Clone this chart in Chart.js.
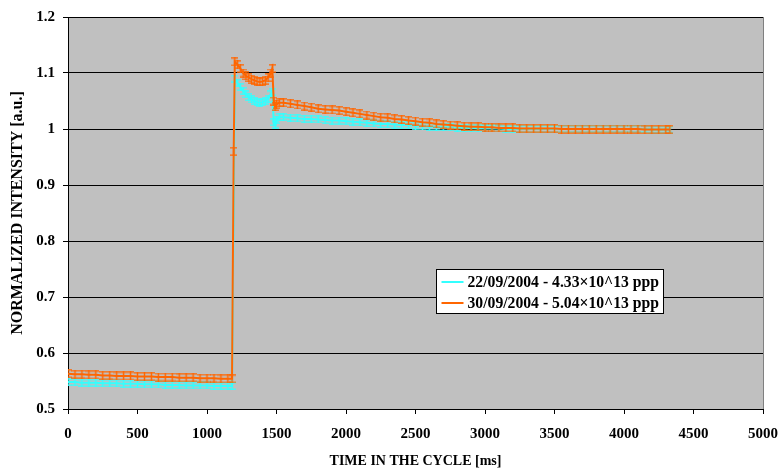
<!DOCTYPE html>
<html>
<head>
<meta charset="utf-8">
<script src="https://cdn.jsdelivr.net/npm/chart.js@4/dist/chart.umd.min.js"></script>
<style>
  html, body { margin: 0; padding: 0; background: #fff; }
  #wrap { width: 778px; height: 470px; }
</style>
</head>
<body>
<div id="wrap"><canvas id="canvas" width="778" height="470"></canvas></div>
<script>
// time in the cycle [ms] and normalized intensity
var timeCyan = [0,50,100,150,200,250,300,350,400,450,500,550,600,650,700,750,800,850,900,950,1000,1050,1100,1150,1180,
  1200,1220,1240,1260,1280,1300,1320,1340,1360,1380,1400,1420,1440,1460,1470,1480,1490,1500,1520,1550,
  1600,1650,1700,1750,1800,1850,1900,1950,2000,2050,2100,2150,2200,2250,2300,2350,2400,2450,2500,2550,
  2600,2650,2700,2750,2800,2850,2900,2950,3000,3050,3100,3150,3200,3250,3300,3350,3400,3450,3500,3550,
  3600,3650,3700,3750,3800,3850,3900,3950,4000,4050,4100,4150,4200,4250,4300,4330];
var cyan = [0.548,0.548,0.547,0.547,0.547,0.546,0.546,0.546,0.545,0.545,0.545,0.544,0.544,0.544,0.543,0.543,0.543,0.542,0.542,0.542,0.542,0.541,0.541,0.541,0.541,
  1.090,1.082,1.075,1.068,1.062,1.057,1.053,1.050,1.048,1.047,1.048,1.050,1.054,1.062,1.066,1.012,1.008,1.016,1.021,1.021,
  1.020,1.019,1.018,1.018,1.017,1.016,1.015,1.015,1.014,1.013,1.012,1.011,1.010,1.009,1.009,1.008,1.007,1.007,1.006,1.005,
  1.004,1.004,1.003,1.003,1.002,1.002,1.002,1.001,1.001,1.001,1.001,1.000,1.000,1.000,1.000,1.000,1.000,1.000,1.000,1.000,
  1.000,1.000,1.000,1.000,1.000,1.000,1.000,1.000,1.000,1.000,1.000,1.000,0.999,0.999,0.999,0.999];

var timeOrange = [0,50,100,150,200,250,300,350,400,450,500,550,600,650,700,750,800,850,900,950,1000,1050,1100,1150,1180,1192,
  1200,1220,1240,1260,1280,1300,1320,1340,1360,1380,1400,1420,1440,1460,1470,1480,1490,1500,1520,1550,
  1600,1650,1700,1750,1800,1850,1900,1950,2000,2050,2100,2150,2200,2250,2300,2350,2400,2450,2500,2550,
  2600,2650,2700,2750,2800,2850,2900,2950,3000,3050,3100,3150,3200,3250,3300,3350,3400,3450,3500,3550,
  3600,3650,3700,3750,3800,3850,3900,3950,4000,4050,4100,4150,4200,4250,4300,4330];
var orange = [0.563,0.562,0.562,0.561,0.561,0.560,0.560,0.559,0.559,0.559,0.558,0.558,0.558,0.557,0.557,0.557,0.556,0.556,0.556,0.555,0.555,0.555,0.554,0.554,0.554,0.960,
  1.120,1.115,1.108,1.100,1.095,1.092,1.089,1.087,1.085,1.084,1.085,1.087,1.092,1.100,1.108,1.050,1.040,1.044,1.047,1.047,
  1.045,1.043,1.041,1.039,1.036,1.035,1.034,1.033,1.031,1.029,1.027,1.025,1.023,1.021,1.020,1.018,1.017,1.015,1.014,1.012,
  1.011,1.009,1.008,1.007,1.006,1.005,1.004,1.004,1.003,1.003,1.002,1.002,1.002,1.001,1.001,1.001,1.001,1.001,1.001,1.000,
  1.000,1.000,1.000,1.000,1.000,1.000,1.000,1.000,1.000,1.000,1.000,0.999,0.999,0.999,0.999,0.999];

var seriesLabels = ['22/09/2004 - 4.33\u00d710^13 ppp', '30/09/2004 - 5.04\u00d710^13 ppp'];
var seriesColors = ['#33ffff', '#ff6600'];

function pairs(xs, ys) {
    return xs.map(function(x, i) { return {x: x, y: ys[i]}; });
}

// little error bar marker (vertical stroke with caps)
function errBar(color, w, h) {
    var cv = document.createElement('canvas');
    cv.width = w; cv.height = h;
    var g = cv.getContext('2d');
    g.strokeStyle = color;
    g.lineWidth = 1.5;
    g.beginPath();
    g.moveTo(w / 2, 0); g.lineTo(w / 2, h);
    g.stroke();
    g.lineWidth = 1.2;
    g.beginPath();
    g.moveTo(0, 0.8); g.lineTo(w, 0.8);
    g.moveTo(0, h - 0.8); g.lineTo(w, h - 0.8);
    g.stroke();
    return cv;
}

var FONT = '"Liberation Serif", "Times New Roman", serif';

// gray plot area behind the data
var plotBg = {
    id: 'plotBg',
    beforeDraw: function(chart) {
        var a = chart.chartArea, c = chart.ctx;
        c.save();
        c.fillStyle = '#c0c0c0';
        c.fillRect(a.left, a.top, a.right - a.left, a.bottom - a.top);
        c.strokeStyle = '#808080';
        c.lineWidth = 1;
        c.beginPath();
        c.moveTo(a.right + 0.5, a.top);
        c.lineTo(a.right + 0.5, a.bottom);
        c.stroke();
        c.restore();
    }
};

// boxed legend inside the plot like the original
var boxLegend = {
    id: 'boxLegend',
    afterDraw: function(chart) {
        var c = chart.ctx;
        var x = 436.5, y = 269.5, w = 227, h = 44;
        c.save();
        c.fillStyle = '#fff';
        c.fillRect(x, y, w, h);
        c.strokeStyle = '#000';
        c.lineWidth = 1;
        c.strokeRect(x, y, w, h);
        c.font = 'bold 15.7px ' + FONT;
        c.textBaseline = 'middle';
        chart.data.datasets.forEach(function(ds, i) {
            var ly = y + 12.5 + i * 21;
            c.strokeStyle = ds.borderColor;
            c.lineWidth = 2;
            c.beginPath();
            c.moveTo(x + 5, ly);
            c.lineTo(x + 27, ly);
            c.stroke();
            c.fillStyle = '#000';
            c.fillText(ds.label, x + 31, ly + 1);
        });
        c.restore();
    }
};

var ctx = document.getElementById('canvas').getContext('2d');
var myChart = new Chart(ctx, {
    type: 'line',
    data: {
        datasets: [
            {
                label: seriesLabels[0],
                data: pairs(timeCyan, cyan),
                borderColor: seriesColors[0],
                backgroundColor: seriesColors[0],
                borderWidth: 2,
                pointStyle: errBar(seriesColors[0], 7, 8),
                order: 2
            },
            {
                label: seriesLabels[1],
                data: pairs(timeOrange, orange),
                borderColor: seriesColors[1],
                backgroundColor: seriesColors[1],
                borderWidth: 2,
                pointStyle: errBar(seriesColors[1], 7, 9),
                order: 1
            }
        ]
    },
    options: {
        responsive: false,
        animation: false,
        layout: { padding: { top: 16, right: 15, left: 0, bottom: 0 } },
        elements: { line: { tension: 0 } },
        plugins: {
            legend: { display: false },
            tooltip: { enabled: false }
        },
        scales: {
            x: {
                type: 'linear',
                min: 0,
                max: 5000,
                afterFit: function(s) { s.height = 61; s.paddingLeft = 0; s.paddingRight = 0; },
                ticks: {
                    stepSize: 500,
                    maxRotation: 0,
                    padding: 11,
                    color: '#000',
                    font: { family: FONT, size: 15, weight: 'bold' },
                    callback: function(v) { return String(v); }
                },
                grid: { drawOnChartArea: false, tickLength: 5, color: '#000' },
                border: { color: '#000', width: 1 },
                title: {
                    display: true,
                    text: 'TIME IN THE CYCLE [ms]',
                    color: '#000',
                    padding: 0,
                    font: { family: FONT, size: 14, weight: 'bold' }
                }
            },
            y: {
                min: 0.5,
                max: 1.2,
                afterFit: function(s) { s.width = 68; },
                ticks: {
                    stepSize: 0.1,
                    padding: 8,
                    color: '#000',
                    font: { family: FONT, size: 15, weight: 'bold' },
                    callback: function(v) { return String(Math.round(v * 10) / 10); }
                },
                grid: { color: '#000', tickLength: 5 },
                border: { color: '#000', width: 1 },
                title: {
                    display: true,
                    text: 'NORMALIZED INTENSITY [a.u.]',
                    color: '#000',
                    padding: { top: 8, bottom: 0 },
                    font: { family: FONT, size: 16, weight: 'bold' }
                }
            }
        }
    },
    plugins: [plotBg, boxLegend]
});
</script>
</body>
</html>
